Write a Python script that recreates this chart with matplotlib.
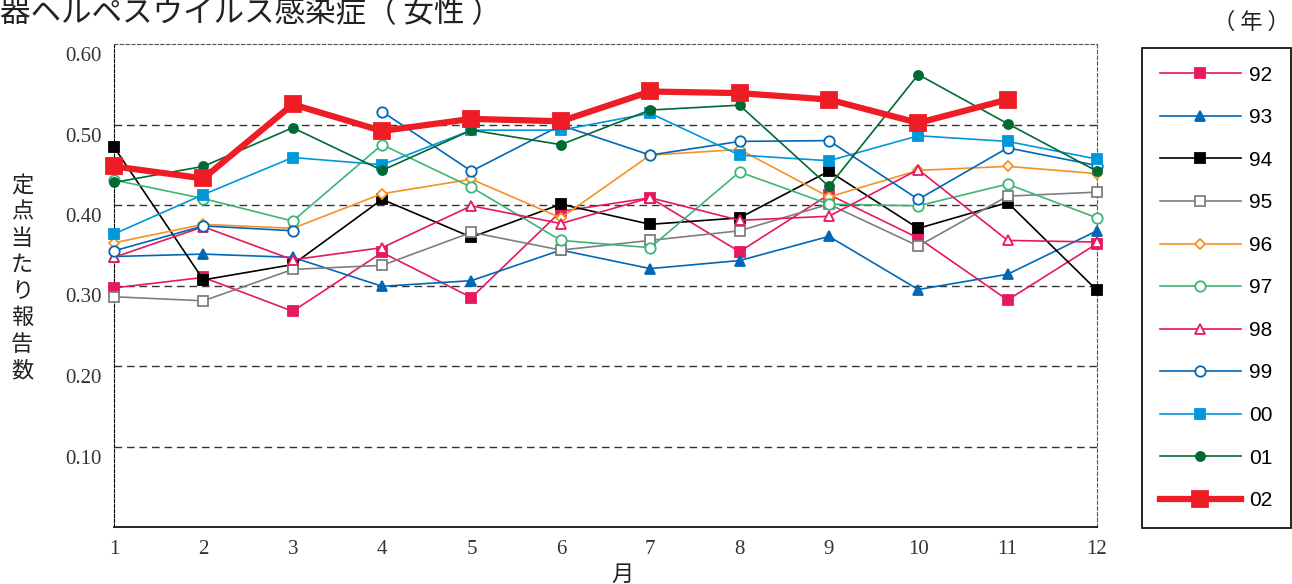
import numpy as np
import matplotlib
matplotlib.use('Agg')
import matplotlib.pyplot as plt
from matplotlib.transforms import ScaledTranslation

# monthly values per year
months = list(range(1, 13))
years = ['92', '93', '94', '95', '96', '97', '98', '99', '00', '01', '02']

v92 = [0.297, 0.310, 0.268, 0.341, 0.285, 0.392, 0.409, 0.342, 0.413, 0.359, 0.282, 0.352]
v93 = [0.336, 0.339, 0.335, 0.299, 0.306, 0.344, 0.321, 0.331, 0.361, 0.295, 0.314, 0.368]
v94 = [0.472, 0.307, 0.326, 0.407, 0.360, 0.401, 0.376, 0.384, 0.442, 0.371, 0.403, 0.294]
v95 = [0.286, 0.281, 0.320, 0.325, 0.366, 0.344, 0.356, 0.368, 0.401, 0.349, 0.411, 0.416]
v96 = [0.353, 0.376, 0.371, 0.414, 0.432, 0.384, 0.462, 0.469, 0.410, 0.443, 0.448, 0.439]
v97 = [0.431, 0.408, 0.380, 0.475, 0.422, 0.356, 0.347, 0.441, 0.401, 0.399, 0.426, 0.384]
v98 = [0.335, 0.373, 0.332, 0.347, 0.399, 0.377, 0.409, 0.381, 0.386, 0.444, 0.356, 0.354]
v99 = [0.343, 0.374, 0.368, 0.516, 0.442, 0.499, 0.462, 0.479, 0.480, 0.407, 0.471, 0.449]
v00 = [0.364, 0.413, 0.459, 0.450, 0.493, 0.493, 0.514, 0.462, 0.455, 0.486, 0.479, 0.457]
v01 = [0.428, 0.448, 0.496, 0.443, 0.493, 0.475, 0.518, 0.524, 0.423, 0.562, 0.501, 0.442]
v02 = [0.448, 0.433, 0.525, 0.492, 0.507, 0.504, 0.541, 0.539, 0.531, 0.502, 0.531]
break_99 = 3  # the 99 line is not joined between Mar and Apr

values = [v92, v93, v94, v95, v96, v97, v98, v99, v00, v01, v02]

styles = {
    '92': dict(color='#E6185E', marker='s', mfc='#E6185E'),
    '93': dict(color='#0068B7', marker='^', mfc='#0068B7'),
    '94': dict(color='#000000', marker='s', mfc='#000000'),
    '95': dict(color='#7F7F7F', marker='s', mfc='white'),
    '96': dict(color='#F39323', marker='D', mfc='white', ms=5.5),
    '97': dict(color='#3DB574', marker='o', mfc='white', ms=7.5),
    '98': dict(color='#E6185E', marker='^', mfc='white', ms=7.5),
    '99': dict(color='#0068B7', marker='o', mfc='white', ms=7.5),
    '00': dict(color='#0097DB', marker='s', mfc='#0097DB'),
    '01': dict(color='#006934', marker='o', mfc='#006934'),
    '02': dict(color='#EE1C25', marker='s', mfc='#EE1C25', ms=11, lw=4.5),
}

jp = ['Noto Sans CJK JP', 'DejaVu Sans']

fig = plt.figure(figsize=(12.92, 5.84), dpi=100)
ax = fig.add_axes([114 / 1292, 1 - 527 / 584, (1097 - 114) / 1292, (527 - 44) / 584])

handles = []
for yr, vals in zip(years, values):
    st = dict(styles[yr])
    col = st.pop('color')
    mfc = st.pop('mfc')
    ms = st.pop('ms', 6.5)
    lw = st.pop('lw', 1.2)
    kw = dict(color=col, marker=st['marker'], mfc=mfc, mec=col, ms=ms, lw=lw,
              mew=1.3, clip_on=False, zorder=5 if yr == '02' else 3)
    x = months[:len(vals)]
    if yr == '99':
        ax.plot(x[:break_99], vals[:break_99], **kw)
        h, = ax.plot(x[break_99:], vals[break_99:], label=yr, **kw)
    else:
        h, = ax.plot(x, vals, label=yr, **kw)
    handles.append(h)

ax.set_xlim(1, 12)
ax.set_ylim(0, 0.6)
ax.set_xticks(months)
ax.set_yticks([0.1, 0.2, 0.3, 0.4, 0.5, 0.6])
ax.set_yticklabels(['0.10', '0.20', '0.30', '0.40', '0.50', '0.60'])
ax.tick_params(length=0, labelsize=15, colors='#333333')
ax.tick_params(axis='y', pad=9)
ax.tick_params(axis='x', pad=9)
for lab in ax.get_xticklabels() + ax.get_yticklabels():
    lab.set_fontfamily('Liberation Serif')
# y labels sit a little below their grid lines in the original
for lab in ax.get_yticklabels():
    lab.set_transform(lab.get_transform() + ScaledTranslation(0, -0.1, fig.dpi_scale_trans))

for yv in [0.1, 0.2, 0.3, 0.4, 0.5]:
    ax.axhline(yv, color='#333333', lw=1.0, ls=(0, (5.5, 3.5)), zorder=1)

ax.spines['top'].set_linestyle((0, (3, 2.2)))
ax.spines['top'].set_color('#555555')
ax.spines['right'].set_linestyle((0, (3, 2.2)))
ax.spines['right'].set_color('#555555')
ax.spines['left'].set_linestyle((0, (3, 1.5)))
ax.spines['left'].set_color('black')
ax.spines['bottom'].set_color('black')
ax.spines['bottom'].set_linewidth(1.2)

leg = fig.legend(handles=handles, loc='upper left', bbox_to_anchor=(1142 / 1292, 1 - 48 / 584),
                 prop={'family': 'Liberation Sans', 'size': 15}, frameon=True, fancybox=False,
                 edgecolor='black', framealpha=1, handlelength=3.9, handletextpad=0.4,
                 borderpad=0.85, labelspacing=1.13, borderaxespad=0)
leg.get_frame().set_linewidth(1.2)

fig.text(0.0, 1 - 14 / 584, '器ヘルペスウイルス感染症（ 女性 ）', family=jp, fontsize=22,
         ha='left', va='center', color='#222222')
fig.text(1290 / 1292, 1 - 22 / 584, '（ 年 ）', family=jp, fontsize=16,
         ha='right', va='center', color='#222222')
fig.text(22 / 1292, 1 - 278 / 584, '\n'.join('定点当たり報告数'), family=jp, fontsize=16,
         ha='center', va='center', linespacing=1.2, color='#222222')
fig.text(622 / 1292, 1 - 574 / 584, '月', family=jp, fontsize=16,
         ha='center', va='center', color='#222222')

fig.savefig('out.png', dpi=100)
